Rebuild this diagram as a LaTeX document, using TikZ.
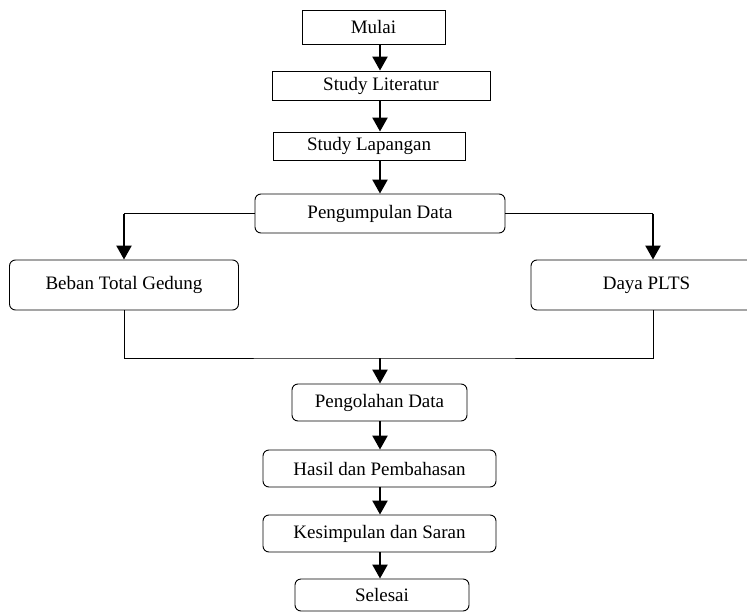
\documentclass[tikz,border=0pt]{standalone}
\usepackage{fontspec}
\setmainfont{Liberation Serif}
\usetikzlibrary{arrows.meta}
\tikzset{
  box/.style={draw, line width=0.9pt, inner sep=0pt, font=\fontsize{19}{21}\selectfont},
  rbox/.style={box, rounded corners=6pt},
  arr/.style={line width=2.4pt, -{Triangle[length=14pt,width=15pt]}},
  link/.style={line width=1pt}
}
\begin{document}
\begin{tikzpicture}[x=1pt,y=-1pt]
    \useasboundingbox (0,0) rectangle (747,613);
    \node[box, minimum width=143pt, minimum height=34pt] at (373.5,27)  (mulai)   {Mulai};
    \node[box, minimum width=218pt, minimum height=29pt] at (381,85.5)  (lit)     {Study Literatur};
    \node[box, minimum width=192pt, minimum height=28pt] at (369,146)   (lap)     {Study Lapangan};
    \node[rbox, minimum width=250pt, minimum height=39pt] at (380,213.5) (kumpul) {Pengumpulan Data};
    \node[rbox, minimum width=229pt, minimum height=50pt] at (124,285)  (beban)   {Beban Total Gedung};
    \node[rbox, minimum width=231pt, minimum height=50pt] at (646.5,285) (daya)   {Daya PLTS};
    \node[rbox, minimum width=175pt, minimum height=37pt] at (379.5,402.5) (olah)  {Pengolahan Data};
    \node[rbox, minimum width=233pt, minimum height=37pt] at (379.5,468.5) (hasil) {Hasil dan Pembahasan};
    \node[rbox, minimum width=233pt, minimum height=37pt] at (379.5,533.5) (simpul) {Kesimpulan dan Saran};
    \node[rbox, minimum width=174pt, minimum height=32pt] at (382,595)  (selesai) {Selesai};

    \coordinate (lk) at (kumpul.west -| beban.north);
    \coordinate (rk) at ([xshift=6.5pt]daya.north |- kumpul.east);
    \coordinate (rb) at ([xshift=6.5pt]daya.south);
    \coordinate (join) at (380,358);

    \draw [arr] (mulai.south -| kumpul.north) -- (lit.north -| kumpul.north);
    \draw [arr] (lit.south -| kumpul.north) -- (lap.north -| kumpul.north);
    \draw [arr] (lap.south -| kumpul.north) -- (kumpul.north);
    \draw [line width=1.6pt] (kumpul.west) -- (lk);\draw [arr] (lk) -- (beban.north);
    \draw [line width=1.6pt] (kumpul.east) -- (rk);\draw [arr] (rk) -- (rk |- daya.north);
    \draw [link] (beban.south) |- (join) -| (rb);
    \draw [arr] (join) -- (join |- olah.north);
    \draw [arr] (olah.south -| join) -- (hasil.north -| join);
    \draw [arr] (hasil.south -| join) -- (simpul.north -| join);
    \draw [arr] (simpul.south -| join) -- (selesai.north -| join);
\end{tikzpicture}
\end{document}
